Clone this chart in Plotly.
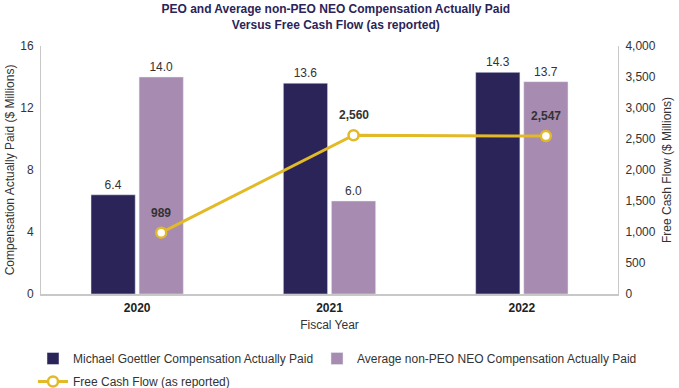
import numpy as np
import plotly.graph_objects as go

years = ["2020", "2021", "2022"]
peo_cap = [6.4, 13.6, 14.3]
neo_cap = [14.0, 6.0, 13.7]
fcf = [989, 2560, 2547]

peo_name = "Michael Goettler Compensation Actually Paid"
neo_name = "Average non-PEO NEO Compensation Actually Paid"
fcf_name = "Free Cash Flow (as reported)"

NAVY = "#2a2459"
LILAC = "#a78bb0"
GOLD = "#e2b927"
GRID = "#c8c8c8"
TXT = "#333333"
FONT = "Arial, Liberation Sans, sans-serif"

bargap = 0.5
bargroupgap = 0.08

fig = go.Figure()
fig.add_trace(go.Bar(
    x=years, y=peo_cap, name=peo_name, marker_color=NAVY, legend="legend",
    text=[f"{v:.1f}" for v in peo_cap], textposition="outside",
    textfont=dict(size=12, color=TXT), cliponaxis=False,
))
fig.add_trace(go.Bar(
    x=years, y=neo_cap, name=neo_name, marker_color=LILAC, legend="legend2",
    text=[f"{v:.1f}" for v in neo_cap], textposition="outside",
    textfont=dict(size=12, color=TXT), cliponaxis=False,
))
# line sits at the centre of the second bar of each group
offset = (1 - bargap) / 4
line_x = np.arange(len(years)) + offset
fig.add_trace(go.Scatter(
    x=line_x, y=fcf, name=fcf_name, legend="legend3",
    xaxis="x2", yaxis="y2", mode="lines+markers",
    line=dict(color=GOLD, width=3),
    marker=dict(size=10, color="white", line=dict(color=GOLD, width=2.5)),
    cliponaxis=False,
))
for xv, yv in zip(line_x, fcf):
    fig.add_annotation(
        x=xv, y=yv, xref="x2", yref="y2", text=f"<b>{yv:,}</b>",
        showarrow=False, yshift=20, font=dict(size=12, color=TXT),
    )

legend_common = dict(
    orientation="h", xref="container", yref="container",
    xanchor="left", yanchor="top", font=dict(size=12, color=TXT),
    itemwidth=30, bgcolor="rgba(0,0,0,0)",
)

fig.update_layout(
    width=679, height=388,
    margin=dict(l=41, r=61, t=46, b=94, autoexpand=False),
    paper_bgcolor="white", plot_bgcolor="white",
    font=dict(family=FONT, size=11, color=TXT),
    title=dict(
        text="<b>PEO and Average non-PEO NEO Compensation Actually Paid<br>Versus Free Cash Flow (as reported)</b>",
        x=0.511, xanchor="center", xref="paper", yref="container", y=0.966, yanchor="top",
        font=dict(size=12, color=NAVY, family=FONT),
    ),
    barmode="group", bargap=bargap, bargroupgap=bargroupgap,
    xaxis=dict(
        type="category", showgrid=False, showline=True, linecolor=GRID, linewidth=2,
        ticks="outside", ticklen=2, tickcolor="rgba(0,0,0,0)",
        tickfont=dict(size=12, color="#222"), automargin=False,
        tickvals=years, ticktext=[f"<b>{y}</b>" for y in years],
        title=dict(text="Fiscal Year", font=dict(size=12, color=TXT), standoff=6),
    ),
    xaxis2=dict(overlaying="x", range=[-0.5, len(years) - 0.5], visible=False),
    yaxis=dict(
        range=[0, 16], dtick=4, showgrid=False, zeroline=False, automargin=False,
        showline=True, linecolor=GRID, linewidth=1, ticks="outside", ticklen=4,
        tickcolor="rgba(0,0,0,0)", tickfont=dict(size=12, color=TXT),
        title=dict(text="Compensation Actually Paid ($ Millions)", font=dict(size=12, color=TXT), standoff=3),
    ),
    yaxis2=dict(
        overlaying="y", side="right", range=[0, 4000], dtick=500,
        tickformat=",", showgrid=False, zeroline=False, automargin=False,
        showline=True, linecolor=GRID, linewidth=1, ticks="outside", ticklen=4,
        tickcolor="rgba(0,0,0,0)", tickfont=dict(size=12, color=TXT),
        title=dict(text="Free Cash Flow ($ Millions)", font=dict(size=12, color=TXT), standoff=7),
    ),
    legend=dict(legend_common, x=33 / 679, y=1 - 344 / 388),
    legend2=dict(legend_common, x=317 / 679, y=1 - 344 / 388),
    legend3=dict(legend_common, x=33 / 679, y=1 - 367 / 388),
    showlegend=True,
)

fig.write_html(
    "out.html",
    config={"displayModeBar": False},
    post_script="document.body.style.margin='0';",
)
